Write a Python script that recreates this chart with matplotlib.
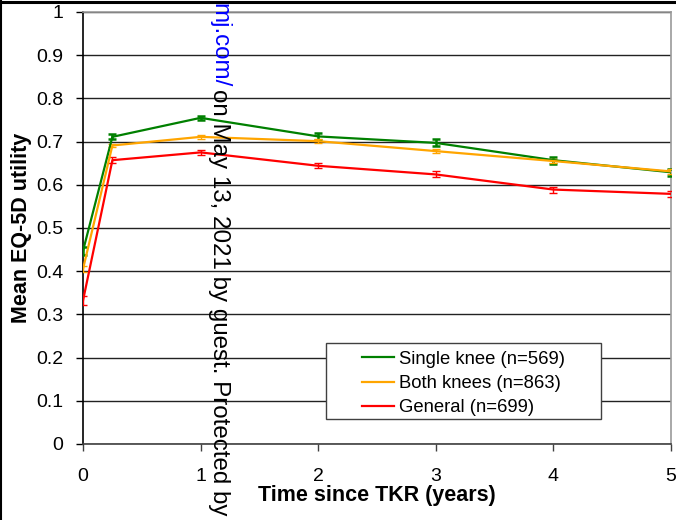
import matplotlib
matplotlib.use("Agg")
import matplotlib.pyplot as plt
from matplotlib.lines import Line2D
from matplotlib.patches import Rectangle

plt.rcParams['font.family'] = ['Liberation Sans', 'DejaVu Sans']

# Data
years = [0, 0.25, 1, 2, 3, 4, 5]
single_knee = [0.447, 0.711, 0.755, 0.712, 0.697, 0.657, 0.629]
single_err = [0.010, 0.006, 0.005, 0.008, 0.008, 0.008, 0.008]
both_knees = [0.405, 0.691, 0.711, 0.701, 0.678, 0.655, 0.631]
both_err = [0.006, 0.004, 0.004, 0.005, 0.005, 0.005, 0.005]
general = [0.332, 0.657, 0.675, 0.644, 0.624, 0.589, 0.579]
general_err = [0.010, 0.007, 0.006, 0.006, 0.007, 0.007, 0.007]
series_labels = ["Single knee (n=569)", "Both knees (n=863)", "General (n=699)"]
x_ticks = [0, 1, 2, 3, 4, 5]
y_ticks = [0, 0.1, 0.2, 0.3, 0.4, 0.5, 0.6, 0.7, 0.8, 0.9, 1]
y_tick_labels = ["0", "0.1", "0.2", "0.3", "0.4", "0.5", "0.6", "0.7", "0.8", "0.9", "1"]

fig = plt.figure(figsize=(6.76, 5.20), dpi=100)
ax = fig.add_axes([83/676, 1-444/520, (671-83)/676, (444-12)/520])

colors = ['#008000', '#FFA500', '#FF0000']
data = [(single_knee, single_err), (both_knees, both_err), (general, general_err)]
handles = []
for (vals, errs), c, lab, elw in zip(data, colors, series_labels, [1.8, 1.0, 1.0]):
    ax.errorbar(years, vals, yerr=errs, color=c, lw=1.6, elinewidth=elw,
                capsize=3, capthick=elw, zorder=5)
    handles.append(Line2D([], [], color=c, lw=1.6))

ax.set_xlim(0, 5)
ax.set_ylim(0, 1)
ax.set_xticks(x_ticks)
ax.set_yticks(y_ticks)
ax.set_yticklabels(y_tick_labels)
ax.tick_params(axis='y', direction='out', length=5, width=1, pad=9, labelsize=14)
ax.tick_params(axis='x', direction='out', length=5, width=1, pad=12, labelsize=14,
               color='#404040')
ax.yaxis.grid(True, color='#222222', lw=1)
ax.set_axisbelow(True)
ax.spines['left'].set_color('black')
ax.spines['bottom'].set_color('#404040')
ax.spines['top'].set_color('#999999')
ax.spines['right'].set_color('#999999')
for s in ax.spines.values():
    s.set_linewidth(1.2)

ax.set_xlabel("Time since TKR (years)", fontsize=15.5, fontweight='bold', labelpad=0)
ax.set_ylabel("Mean EQ-5D utility", fontsize=15.5, fontweight='bold', labelpad=3)

# legend box
ax.add_patch(Rectangle((0.413, 0.058), 0.881-0.413, 0.234-0.058, transform=ax.transAxes,
                       facecolor='white', edgecolor='#404040', lw=1, zorder=3))
leg = ax.legend(handles, series_labels, loc='upper left', bbox_to_anchor=(0.474, 0.2155),
                frameon=False, fontsize=13.3, handlelength=1.73, handletextpad=0.3,
                labelspacing=0.39, borderaxespad=0, borderpad=0)
leg.set_zorder(6)

# watermark
fig.text(0.324, 1-3/520, "mj.com/", rotation=-90, ha='center', va='top',
         fontsize=17.4, color='#0000FF')
fig.text(0.324, 1-89/520, "on May 13, 2021 by guest. Protected by", rotation=-90,
         ha='center', va='top', fontsize=17.4, color='black')

# figure border (top and left)
fig.add_artist(Line2D([0, 1], [1-1.5/520, 1-1.5/520], transform=fig.transFigure,
                      color='black', lw=2.2))
fig.add_artist(Line2D([1/676, 1/676], [0, 1], transform=fig.transFigure,
                      color='black', lw=1.5))

fig.savefig("out.png", dpi=100)
